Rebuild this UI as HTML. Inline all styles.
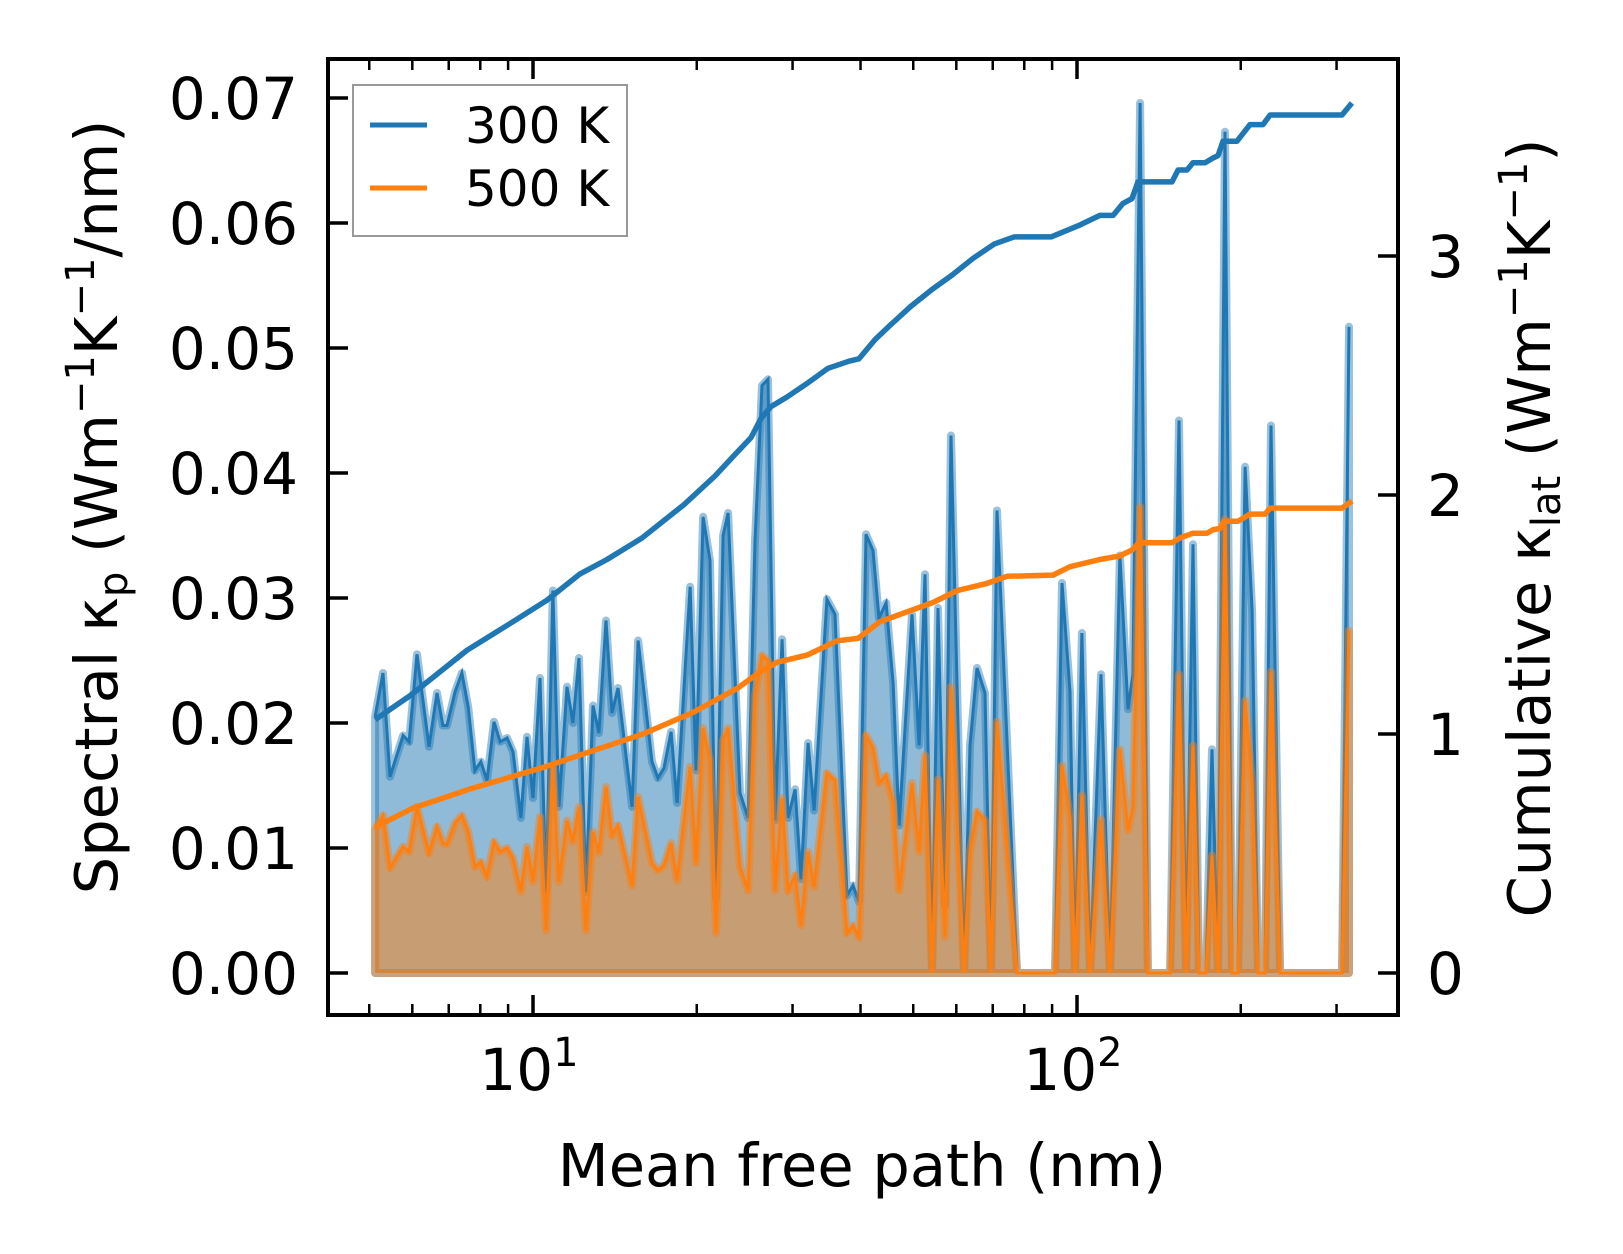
<!DOCTYPE html>
<html><head><meta charset="utf-8"><title>Spectral and cumulative lattice thermal conductivity</title>
<style>
html,body{margin:0;padding:0;background:#fff;}
svg{display:block;font-family:"DejaVu Sans","Liberation Sans",sans-serif;}
</style></head>
<body>
<svg id="chart" width="1623" height="1254" viewBox="0 0 1623 1254" xmlns="http://www.w3.org/2000/svg">
<rect x="0" y="0" width="1623" height="1254" fill="#fff"/>
<g id="plot"></g>
<g id="axes"></g>
<g>
<rect x="353" y="85" width="274" height="151" fill="#fff" stroke="#999" stroke-width="2"/>
<line x1="370" y1="125" x2="427" y2="125" stroke="#1f77b4" stroke-width="5"/>
<text x="465" y="143" font-size="50" fill="#000">300 K</text>
<line x1="370" y1="188" x2="427" y2="188" stroke="#ff7f0e" stroke-width="5"/>
<text x="465" y="206" font-size="50" fill="#000">500 K</text>
</g>
<text x="862" y="1186" font-size="59" text-anchor="middle" fill="#000">Mean free path (nm)</text>
<text transform="translate(117,507) rotate(-90)" font-size="59" text-anchor="middle" fill="#000">Spectral κ<tspan font-size="40" dy="10">p</tspan><tspan dy="-10"> (Wm</tspan><tspan font-size="40" dy="-23">−1</tspan><tspan dy="23">K</tspan><tspan font-size="40" dy="-23">−1</tspan><tspan dy="23">/nm)</tspan></text>
<text transform="translate(1550,528) rotate(-90)" font-size="59" text-anchor="middle" fill="#000">Cumulative κ<tspan font-size="40" dy="10">lat</tspan><tspan dy="-10"> (Wm</tspan><tspan font-size="40" dy="-23">−1</tspan><tspan dy="23">K</tspan><tspan font-size="40" dy="-23">−1</tspan><tspan dy="23">)</tspan></text>
</svg>
<script>
const mfp = [5.125,5.30,5.46,5.77,5.92,6.12,6.44,6.66,6.83,6.95,7.19,7.40,7.60,7.82,8.02,8.23,8.48,8.70,8.96,9.19,9.50,9.75,10.0,10.30,10.57,10.88,11.16,11.55,11.84,12.15,12.51,12.89,13.22,13.62,13.97,14.33,15.21,15.60,16.55,16.97,17.41,17.94,18.40,19.44,19.94,20.54,21.15,21.70,22.36,22.84,24.02,24.85,25.59,26.36,27.04,27.86,28.70,29.43,30.32,31.10,32.04,32.86,34.70,35.90,37.78,38.75,39.75,40.94,42.17,43.25,44.57,45.91,47.09,49.74,51.25,52.56,54.14,55.53,57.20,58.67,61.98,63.57,65.48,67.74,69.48,71.27,77.59,91.11,93.85,97.08,99.16,102.1,105.7,110.7,115.0,119.9,124.1,126.7,130.6,135.0,148.3,154.0,158.6,163.4,167.6,172.6,177.1,181.6,187.1,192.7,197.7,203.7,209.8,215.2,221.6,227.3,236.2,307.0,316.2];
const spec300 = [0.0205,0.0240,0.0157,0.0190,0.0185,0.0255,0.0181,0.0224,0.0198,0.0198,0.0225,0.0240,0.0213,0.0162,0.0169,0.0154,0.0201,0.0185,0.0188,0.0177,0.0124,0.0189,0.0140,0.0236,0.0065,0.0306,0.0133,0.0229,0.0200,0.0252,0.0065,0.0214,0.0192,0.0282,0.0208,0.0228,0.0133,0.0266,0.0169,0.0156,0.0164,0.0193,0.0136,0.0309,0.0162,0.0365,0.0330,0.0060,0.0350,0.0368,0.0144,0.0124,0.0346,0.0470,0.0475,0.0122,0.0267,0.0124,0.0147,0.0075,0.0184,0.0130,0.0299,0.0287,0.0062,0.0070,0.0057,0.0351,0.0338,0.0284,0.0296,0.0232,0.0118,0.0287,0.0182,0.0319,0,0.0292,0.0054,0.0430,0,0.0182,0.0244,0.0224,0,0.0370,0,0,0.0312,0.0225,0,0.0272,0,0.0239,0,0.0334,0.0211,0.0239,0.0696,0,0,0.0442,0,0.0343,0,0,0.0179,0,0.0673,0,0,0.0405,0.0290,0,0,0.0438,0,0,0.0517];
const spec500 = [0.0115,0.0126,0.0084,0.0101,0.0097,0.0133,0.0096,0.0117,0.0104,0.0103,0.0120,0.0126,0.0113,0.0085,0.0089,0.0077,0.0105,0.0097,0.0100,0.0092,0.0065,0.0101,0.0073,0.0125,0.0034,0.0165,0.0073,0.0122,0.0105,0.0133,0.0034,0.0113,0.0096,0.0149,0.0110,0.0118,0.0070,0.0141,0.0088,0.0082,0.0086,0.0104,0.0074,0.0165,0.0088,0.0196,0.0170,0.0032,0.0186,0.0196,0.0085,0.0066,0.0222,0.0254,0.0250,0.0066,0.0140,0.0066,0.0078,0.0038,0.0097,0.0069,0.0160,0.0154,0.0032,0.0038,0.0029,0.0190,0.0180,0.0152,0.0158,0.0137,0.0066,0.0152,0.0097,0.0174,0,0.0155,0.0029,0.0229,0,0.0097,0.0129,0.0122,0,0.0201,0,0,0.0166,0.0124,0,0.0142,0,0.0123,0,0.0179,0.0114,0.0133,0.0373,0,0,0.0239,0,0.0182,0,0,0.0094,0,0.0363,0,0,0.0218,0.0151,0,0,0.0241,0,0,0.0274];
const cumMfp300 = [5.125,5.94,7.56,9.19,10.61,12.20,13.68,15.86,18.95,21.61,23.52,25.16,26.25,27.38,29.30,32.04,34.85,38.10,39.75,42.53,45.33,49.53,54.14,58.91,64.40,70.40,76.61,89.6,101.3,110.2,116.5,121.5,126.2,129.4,149.5,153.4,159.3,163.4,171.9,177.8,181.6,185.5,196.8,208.0,219.7,226.4,307.0,320.2];
const cum300 = [1.06,1.16,1.35,1.47,1.56,1.67,1.73,1.82,1.96,2.08,2.17,2.24,2.32,2.37,2.41,2.47,2.53,2.56,2.57,2.65,2.71,2.79,2.86,2.92,2.99,3.05,3.08,3.08,3.13,3.17,3.17,3.22,3.24,3.31,3.31,3.36,3.36,3.39,3.39,3.41,3.42,3.48,3.48,3.55,3.55,3.59,3.59,3.64];
const cumMfp500 = [5.125,6.02,7.66,10.43,12.89,15.93,19.68,23.71,26.14,28.09,31.91,36.22,39.58,43.44,49.94,54.36,60.19,68.33,74.36,90.35,97.08,110.2,119.9,126.2,130.0,149.5,154.6,163.4,173.4,177.8,183.2,186.3,197.7,208.0,221.6,226.4,307.0,320.2];
const cum500 = [0.61,0.69,0.77,0.86,0.93,1.0,1.09,1.19,1.26,1.30,1.33,1.39,1.40,1.47,1.52,1.55,1.60,1.63,1.66,1.665,1.70,1.73,1.745,1.77,1.80,1.80,1.82,1.84,1.84,1.855,1.86,1.89,1.89,1.92,1.92,1.945,1.945,1.975];
const leftTicks = [0,0.01,0.02,0.03,0.04,0.05,0.06,0.07];
const leftTickLabels = ["0.00","0.01","0.02","0.03","0.04","0.05","0.06","0.07"];
const rightTicks = [0,1,2,3];
const rightTickLabels = ["0","1","2","3"];
const xMajor = [10,100];
const xMajorExp = ["1","2"];
const xMinor = [5,6,7,8,9,20,30,40,50,60,70,80,90,200,300];

const NS = "http://www.w3.org/2000/svg";
const L = 328, R = 1398, T = 59, B = 1015;
function xs(m){ return 533 + (Math.log10(m) - 1) * 544; }
function yl(v){ return 973 - v * 12500; }
function yr(c){ return 973 - c * 239; }
function mk(tag, attrs, parent){
  const e = document.createElementNS(NS, tag);
  for (const k in attrs) e.setAttribute(k, attrs[k]);
  parent.appendChild(e);
  return e;
}
const plot = document.getElementById('plot');
const axes = document.getElementById('axes');

function linePts(xsArr, ys, yf){ return xsArr.map((m,i)=> xs(m).toFixed(1)+','+yf(ys[i]).toFixed(1)).join(' '); }
function fillPath(vals){
  const x0 = xs(mfp[0]), xn = xs(mfp[mfp.length-1]);
  return 'M'+x0.toFixed(1)+','+yl(0)+' L'+linePts(mfp, vals, yl).split(' ').join(' L')+' L'+xn.toFixed(1)+','+yl(0)+' Z';
}

const f300 = mk('path', {d: fillPath(spec300), fill:'rgba(31,119,180,0.5)', stroke:'rgba(31,119,180,0.45)', 'stroke-width':8, 'stroke-linejoin':'round'}, plot);


const l300 = mk('polyline', {points: linePts(mfp, spec300, yl), fill:'none', stroke:'#1f77b4', 'stroke-width':3}, plot);


const f500 = mk('path', {d: fillPath(spec500), fill:'rgba(255,127,14,0.5)', stroke:'rgba(255,127,14,0.45)', 'stroke-width':8, 'stroke-linejoin':'round'}, plot);


const l500 = mk('polyline', {points: linePts(mfp, spec500, yl), fill:'none', stroke:'#ff7f0e', 'stroke-width':3}, plot);


const c300 = mk('polyline', {points: linePts(cumMfp300, cum300, yr), fill:'none', stroke:'#1f77b4', 'stroke-width':5.5, 'stroke-linejoin':'round'}, plot);


const c500 = mk('polyline', {points: linePts(cumMfp500, cum500, yr), fill:'none', stroke:'#ff7f0e', 'stroke-width':5.5, 'stroke-linejoin':'round'}, plot);



const frame = mk('rect', {x:L, y:T, width:R-L, height:B-T, fill:'none', stroke:'#000', 'stroke-width':4}, axes);



leftTicks.forEach((v,i)=>{
  const y = yl(v);
  const t = mk('line', {x1:L, y1:y, x2:L+20, y2:y, stroke:'#000', 'stroke-width':3.5}, axes);
  
  
  const lb = mk('text', {x:298, y:y+21, 'font-size':58, 'text-anchor':'end', fill:'#000'}, axes);
  lb.textContent = leftTickLabels[i];
  
  
});
rightTicks.forEach((c,i)=>{
  const y = yr(c);
  const t = mk('line', {x1:R-20, y1:y, x2:R, y2:y, stroke:'#000', 'stroke-width':3.5}, axes);
  
  
  const lb = mk('text', {x:1427, y:y+21, 'font-size':58, fill:'#000'}, axes);
  lb.textContent = rightTickLabels[i];
  
  
});
xMajor.forEach((m,i)=>{
  const x = xs(m);
  const tb = mk('line', {x1:x, y1:B, x2:x, y2:B-20, stroke:'#000', 'stroke-width':3.5}, axes);
  
  
  const tt = mk('line', {x1:x, y1:T, x2:x, y2:T+20, stroke:'#000', 'stroke-width':3.5}, axes);
  
  
  const lb = mk('text', {x:x-4, y:1090, 'font-size':58, 'text-anchor':'middle', fill:'#000'}, axes);
  lb.textContent = '10';
  const sup = mk('tspan', {'font-size':40, dy:-24}, lb);
  sup.textContent = xMajorExp[i];
  
  
});
xMinor.forEach(m=>{
  const x = xs(m);
  const tb = mk('line', {x1:x, y1:B, x2:x, y2:B-11, stroke:'#000', 'stroke-width':2.5}, axes);
  
  
  const tt = mk('line', {x1:x, y1:T, x2:x, y2:T+11, stroke:'#000', 'stroke-width':2.5}, axes);
  
  
});
</script>
</body></html>
